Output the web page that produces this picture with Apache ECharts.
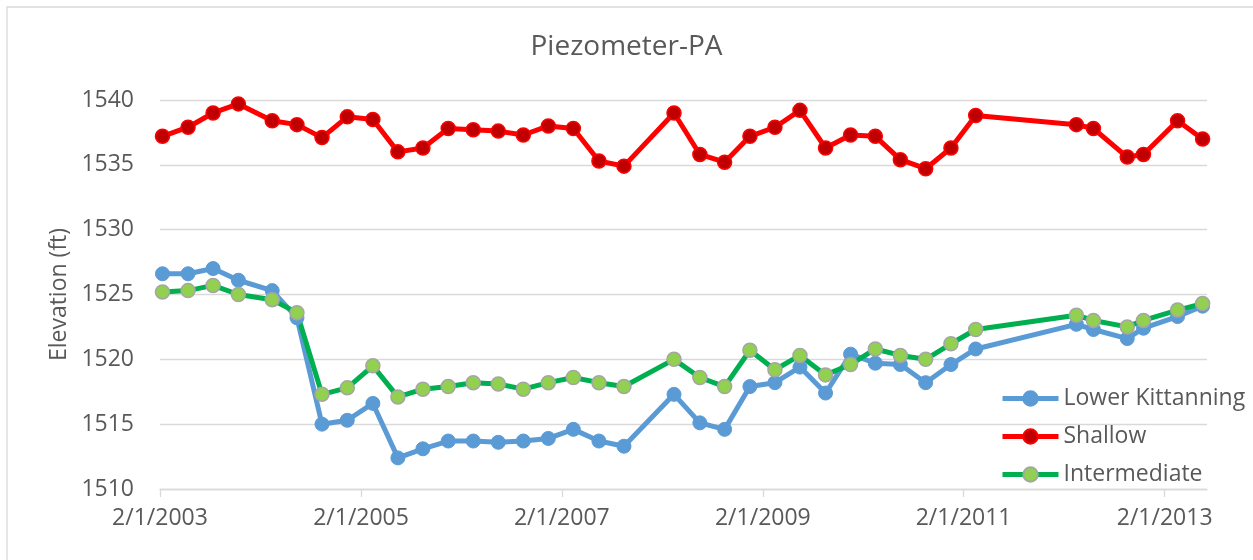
<!DOCTYPE html>
<html>
<head>
<meta charset="utf-8">
<script src="https://cdn.jsdelivr.net/npm/echarts@6/dist/echarts.min.js"></script>
<style>
html,body{margin:0;padding:0;background:#fff;}
#chart{width:1253px;height:560px;}
</style>
</head>
<body>
<div id="chart"></div>
<script>
const titleText = 'Piezometer-PA';
const yAxisName = 'Elevation (ft)';
const seriesNames = ['Lower Kittanning', 'Shallow', 'Intermediate'];

const dates = ['2003-02-10','2003-05-14','2003-08-13','2003-11-13','2004-03-15','2004-06-13','2004-09-12','2004-12-13',
  '2005-03-16','2005-06-15','2005-09-14','2005-12-15','2006-03-16','2006-06-15','2006-09-14','2006-12-14',
  '2007-03-15','2007-06-16','2007-09-15','2008-03-15','2008-06-17','2008-09-15','2008-12-16','2009-03-17',
  '2009-06-16','2009-09-17','2009-12-17','2010-03-17','2010-06-16','2010-09-16','2010-12-17','2011-03-17',
  '2012-03-17','2012-05-18','2012-09-18','2012-11-16','2013-03-20','2013-06-19'];

const lowerKittanning = [1526.6,1526.6,1527.0,1526.1,1525.3,1523.2,1515.0,1515.3,1516.6,1512.4,1513.1,1513.7,1513.7,1513.6,
  1513.7,1513.9,1514.6,1513.7,1513.3,1517.3,1515.1,1514.6,1517.9,1518.2,1519.4,1517.4,1520.4,1519.7,1519.6,1518.2,1519.6,
  1520.8,1522.7,1522.3,1521.6,1522.4,1523.3,1524.1];

const shallow = [1537.2,1537.9,1539.0,1539.7,1538.4,1538.1,1537.1,1538.7,1538.5,1536.0,1536.3,1537.8,1537.7,1537.6,
  1537.3,1538.0,1537.8,1535.3,1534.9,1539.0,1535.8,1535.2,1537.2,1537.9,1539.2,1536.3,1537.3,1537.2,1535.4,1534.7,1536.3,
  1538.8,1538.1,1537.8,1535.6,1535.8,1538.4,1537.0];

const intermediate = [1525.2,1525.3,1525.7,1525.0,1524.6,1523.6,1517.3,1517.8,1519.5,1517.1,1517.7,1517.9,1518.2,1518.1,
  1517.7,1518.2,1518.6,1518.2,1517.9,1520.0,1518.6,1517.9,1520.7,1519.2,1520.3,1518.8,1519.6,1520.8,1520.3,1520.0,1521.2,
  1522.3,1523.4,1523.0,1522.5,1523.0,1523.8,1524.3];

const xTicks = ['2003-02-01','2005-02-01','2007-02-01','2009-02-01','2011-02-01','2013-02-01'];
const xMin = '2003-02-01';
const xMax = '2013-07-05';
const yTicks = [1510, 1515, 1520, 1525, 1530, 1535, 1540];

const DAY = 86400000;
function utc(s) {
  const p = s.split('-').map(Number);
  return Date.UTC(p[0], p[1] - 1, p[2]);
}
const BASE = utc(xMin);
function toDays(s) { return Math.round((utc(s) - BASE) / DAY); }
function fmtDays(v) {
  const d = new Date(BASE + Math.round(v) * DAY);
  return (d.getUTCMonth() + 1) + '/' + d.getUTCDate() + '/' + d.getUTCFullYear();
}
function pairs(vals) { return dates.map((d, i) => [toDays(d), vals[i]]); }

const FONT = 'Open Sans';
const TXT = '#595959';
const tickDays = xTicks.map(toDays);
const LW = 5;

const chart = echarts.init(document.getElementById('chart'));
chart.setOption({
  animation: false,
  backgroundColor: '#fff',
  graphic: [{
    type: 'rect', silent: true, z: -10,
    shape: { x: 7, y: 7, width: 1270, height: 580 },
    style: { fill: 'none', stroke: '#D9D9D9', lineWidth: 1.3 }
  }],
  title: {
    text: titleText, left: 'center', top: 28,
    textStyle: { fontFamily: FONT, fontSize: 28, fontWeight: 'normal', color: TXT }
  },
  grid: { left: 160, right: 46, top: 100, bottom: 71, containLabel: false },
  legend: {
    orient: 'vertical', left: 995, top: 382,
    itemWidth: 56, itemHeight: 18, itemGap: 15,
    lineStyle: { width: LW },
    textStyle: { fontFamily: FONT, fontSize: 23, color: TXT },
    data: seriesNames
  },
  xAxis: {
    type: 'value',
    min: 0, max: toDays(xMax),
    axisLine: { show: true, lineStyle: { color: '#D9D9D9', width: 1.3 } },
    axisTick: { show: true, length: 8, customValues: tickDays, lineStyle: { color: '#D9D9D9', width: 1.3 } },
    axisLabel: { customValues: tickDays, formatter: fmtDays, fontFamily: FONT, fontSize: 23, color: TXT, margin: 18 },
    splitLine: { show: false }
  },
  yAxis: {
    type: 'value', min: yTicks[0], max: yTicks[yTicks.length - 1], interval: 5,
    name: yAxisName, nameLocation: 'middle', nameGap: 85,
    nameTextStyle: { fontFamily: FONT, fontSize: 23, color: TXT },
    axisLine: { show: false }, axisTick: { show: false },
    axisLabel: { fontFamily: FONT, fontSize: 23, color: TXT, margin: 26, formatter: v => String(v) },
    splitLine: { lineStyle: { color: '#D9D9D9', width: 1.3 } }
  },
  series: [
    {
      name: seriesNames[0], type: 'line', data: pairs(lowerKittanning),
      symbol: 'circle', symbolSize: 14,
      lineStyle: { color: '#5B9BD5', width: LW },
      itemStyle: { color: '#5B9BD5', borderColor: '#5B9BD5', borderWidth: 1 }
    },
    {
      name: seriesNames[1], type: 'line', data: pairs(shallow),
      symbol: 'circle', symbolSize: 14,
      lineStyle: { color: '#FF0000', width: LW },
      itemStyle: { color: '#C00000', borderColor: '#FF0000', borderWidth: 1.5 }
    },
    {
      name: seriesNames[2], type: 'line', data: pairs(intermediate),
      symbol: 'circle', symbolSize: 14,
      lineStyle: { color: '#00B050', width: LW },
      itemStyle: { color: '#92D050', borderColor: '#A5A5A5', borderWidth: 1.5 }
    }
  ]
});
</script>
</body>
</html>
